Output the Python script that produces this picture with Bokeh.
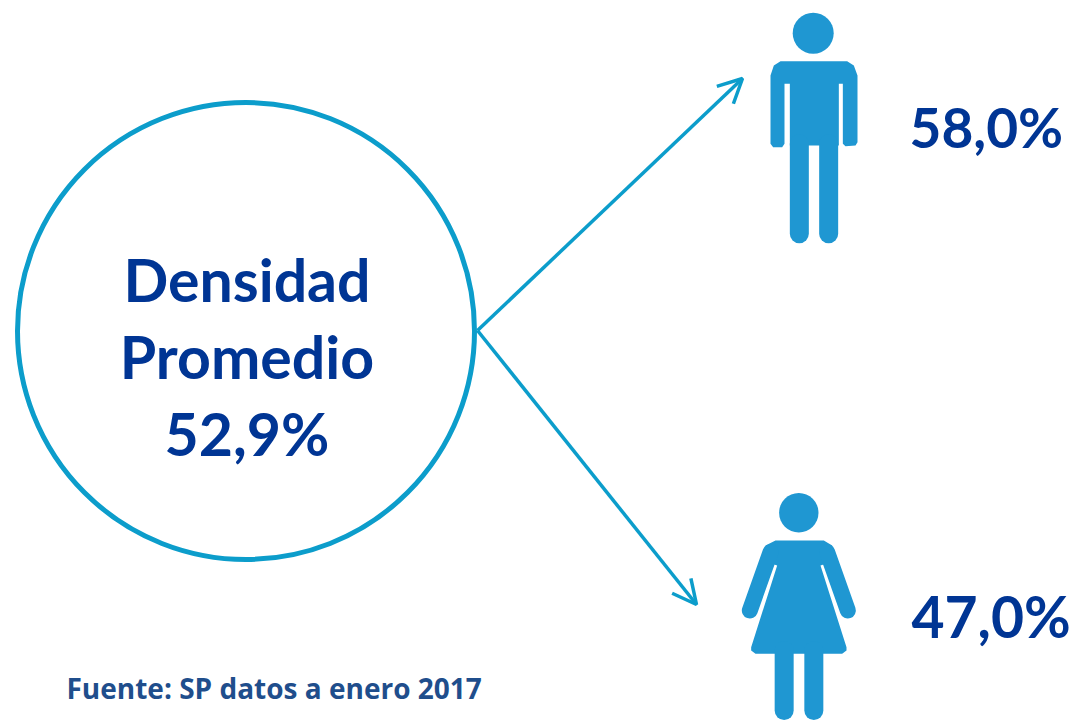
from bokeh.plotting import figure
from bokeh.embed import file_html
from bokeh.resources import INLINE
from bokeh.models import Range1d, Arrow, OpenHead
from bokeh.core.properties import value

center_lines = ["Densidad", "Promedio", "52,9%"]
group_labels = ["58,0%", "47,0%"]
source_note = "Fuente: SP datos a enero 2017"

NAVY = "#003594"
CYAN = "#0C9DCB"
ICON = "#1F97D2"
W, H = 1076, 721

p = figure(width=W, height=H, output_backend="svg", toolbar_location=None,
           x_range=Range1d(0, W), y_range=Range1d(H, 0),
           min_border=0, outline_line_color=None, background_fill_color="white")
p.axis.visible = False
p.grid.visible = False

def mx(v):
    return [730 + a / 3 for a in v]
def my(v):
    return [a / 3 for a in v]
def wx(v):
    return [660 + a / 3 for a in v]
def wy(v):
    return [480 + a / 3 for a in v]

# circle
p.circle(x=[245.5], y=[330.5], radius=228.5, fill_color=None, line_color=CYAN, line_width=5)

# arrows
for xe, ye in [(742, 78), (696, 604)]:
    p.add_layout(Arrow(end=OpenHead(size=24, line_color=CYAN, line_width=3.5),
                       x_start=477, y_start=330, x_end=xe, y_end=ye,
                       line_color=CYAN, line_width=3.5))

# man
p.circle(x=[812.7], y=[32.7], radius=20.5, fill_color=ICON, line_color=None)
p.patch(x=mx([150, 350, 370, 381, 381, 375, 345, 337, 337, 325, 325, 178, 178, 162, 162, 155, 128, 120, 120, 130]),
        y=my([182, 182, 195, 225, 425, 435, 437, 430, 250, 250, 435, 435, 250, 250, 430, 440, 440, 430, 225, 195]),
        fill_color=ICON, line_color=None)
p.multi_line(xs=[mx([206.5, 206.5]), mx([294.5, 294.5])],
             ys=[my([430, 700]), my([430, 700])],
             line_color=ICON, line_width=19, line_cap="round")

# woman
p.circle(x=[798.3], y=[512.3], radius=19.7, fill_color=ICON, line_color=None)
p.patch(x=wx([345, 490, 515, 525, 480, 558, 558, 545, 285, 272, 272, 350, 305, 315]),
        y=wy([180, 180, 195, 240, 255, 500, 510, 520, 520, 510, 500, 255, 240, 195]),
        fill_color=ICON, line_color=None)
p.multi_line(xs=[wx([330, 268]), wx([500, 562])], ys=[wy([215, 390]), wy([215, 390])],
             line_color=ICON, line_width=16, line_cap="round")
p.multi_line(xs=[wx([371, 371]), wx([460, 460])], ys=[wy([510, 690]), wy([510, 690])],
             line_color=ICON, line_width=19, line_cap="round")

# texts
p.text(x=[246.5, 246.5, 246.5], y=[279, 356, 433], text=center_lines,
       text_font=value("Lato"), text_font_style="bold", text_font_size="59px",
       text_color=NAVY, text_align="center", text_baseline="alphabetic")
p.text(x=[909], y=[126], text=group_labels[:1],
       text_font=value("Lato"), text_font_style="bold", text_font_size="55px",
       text_color=NAVY, text_align="left", text_baseline="alphabetic")
p.text(x=[911], y=[615], text=group_labels[1:],
       text_font=value("Lato"), text_font_style="bold", text_font_size="57px",
       text_color=NAVY, text_align="left", text_baseline="alphabetic")
p.text(x=[66], y=[687], text=[source_note],
       text_font=value("Open Sans"), text_font_style="bold", text_font_size="28px",
       text_color="#1F4E8C", text_align="left", text_baseline="alphabetic")

open("out.html", "w").write(file_html(p, INLINE))
